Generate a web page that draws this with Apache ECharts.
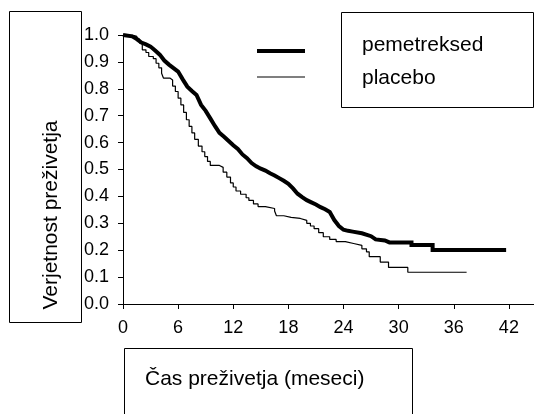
<!DOCTYPE html>
<html>
<head>
<meta charset="utf-8">
<script src="https://cdn.jsdelivr.net/npm/echarts/dist/echarts.min.js"></script>
<style>
  html, body { margin: 0; padding: 0; background: #fff; }
  #chart { width: 534px; height: 414px; }
</style>
</head>
<body>
<div id="chart"></div>
<script>
// Kaplan-Meier survival curves (time in months, survival probability).
// The pemetreksed curve is drawn as a polyline through its corner points.
var pemetrexedMonths = [0, 1.0, 1.5, 2.0, 2.5, 3.0, 3.5, 4.0, 4.5, 5.0, 5.5, 6.0, 6.5, 7.0, 7.5, 8.0, 8.5, 9.0, 9.5, 10.0,
  10.5, 11.0, 11.5, 12.0, 12.5, 13.0, 13.5, 14.0, 14.5, 15.0, 15.5, 16.0, 16.5, 17.0, 17.5, 18.0, 18.5, 19.0, 19.5, 20.0,
  20.5, 21.0, 21.5, 22.0, 22.5, 23.0, 23.5, 24.0, 24.5, 25.0, 26.0, 27.0, 27.5, 28.5, 29.0, 31.4, 31.4, 33.7, 33.7, 41.7];
var pemetrexedSurvival = [1.00, 0.995, 0.985, 0.972, 0.965, 0.957, 0.942, 0.927, 0.905, 0.890, 0.877, 0.864, 0.835, 0.808, 0.792, 0.777, 0.740, 0.718, 0.690, 0.662,
  0.636, 0.622, 0.606, 0.590, 0.576, 0.556, 0.542, 0.524, 0.512, 0.503, 0.496, 0.486, 0.478, 0.468, 0.458, 0.447, 0.430, 0.410, 0.397, 0.386,
  0.378, 0.370, 0.360, 0.352, 0.342, 0.312, 0.290, 0.276, 0.272, 0.269, 0.263, 0.252, 0.240, 0.236, 0.229, 0.229, 0.219, 0.219, 0.201, 0.201];

// Placebo curve is drawn as a step function (value holds until the next event)
var placeboMonths = [0, 1.0, 1.5, 1.8, 2.1, 2.5, 2.8, 3.3, 3.6, 3.9, 4.2, 4.4, 5.1, 5.4, 5.7, 6.0, 6.3, 6.6, 6.9, 7.2,
  7.5, 7.8, 8.2, 8.6, 8.9, 9.2, 9.5, 10.5, 10.9, 11.3, 11.7, 12.0, 12.3, 12.8, 13.4, 13.7, 14.2, 14.7, 15.5, 16.5,
  16.7, 17.5, 18.3, 19.3, 20.0, 20.4, 20.8, 21.3, 21.8, 22.5, 23.2, 24.2, 25.1, 26.0, 26.5, 26.8, 28.0, 28.9, 31.0, 37.4];
var placeboSurvival = [1.00, 0.995, 0.985, 0.970, 0.945, 0.935, 0.920, 0.912, 0.895, 0.878, 0.858, 0.840, 0.833, 0.810, 0.790, 0.765, 0.740, 0.712, 0.685, 0.660,
  0.636, 0.612, 0.587, 0.566, 0.548, 0.530, 0.515, 0.508, 0.490, 0.472, 0.450, 0.435, 0.420, 0.408, 0.395, 0.385, 0.372, 0.362, 0.355, 0.346,
  0.328, 0.322, 0.318, 0.311, 0.300, 0.290, 0.280, 0.265, 0.250, 0.240, 0.232, 0.225, 0.218, 0.205, 0.194, 0.176, 0.156, 0.136, 0.118, 0.118];

var seriesNames = ['pemetreksed', 'placebo'];
var xTitle = 'Čas preživetja (meseci)';
var yTitle = 'Verjetnost preživetja';

function pairs(xs, ys) {
  return xs.map(function (x, i) { return [x, ys[i]]; });
}

var FONT = '"Liberation Sans", Arial, sans-serif';
var chart = echarts.init(document.getElementById('chart'), null, { renderer: 'canvas' });

chart.setOption({
  animation: false,
  backgroundColor: '#ffffff',
  // the time axis runs on past the right edge of the page
  grid: { left: 123, top: 35, bottom: 110, right: -30, containLabel: false, outerBoundsMode: 'none' },
  xAxis: {
    type: 'value',
    min: 0,
    max: 48,
    interval: 6,
    splitLine: { show: false },
    axisLine: { show: true, lineStyle: { color: '#000', width: 1 } },
    axisTick: { show: true, length: 5, lineStyle: { color: '#000', width: 1 } },
    axisLabel: { color: '#000', fontFamily: FONT, fontSize: 18, margin: 15, hideOverlap: false }
  },
  yAxis: {
    type: 'value',
    min: 0,
    max: 1,
    interval: 0.1,
    splitLine: { show: false },
    axisLine: { show: true, lineStyle: { color: '#000', width: 1 } },
    axisTick: { show: true, length: 5, lineStyle: { color: '#000', width: 1 } },
    axisLabel: {
      color: '#000', fontFamily: FONT, fontSize: 18, margin: 14,
      formatter: function (v) { return v.toFixed(1); }
    }
  },
  series: [
    {
      name: seriesNames[0],
      type: 'line',
      showSymbol: false,
      symbol: 'none',
      data: pairs(pemetrexedMonths, pemetrexedSurvival),
      lineStyle: { color: '#000', width: 4, join: 'miter' },
      z: 3
    },
    {
      name: seriesNames[1],
      type: 'line',
      step: 'end',
      showSymbol: false,
      symbol: 'none',
      data: pairs(placeboMonths, placeboSurvival),
      lineStyle: { color: '#000', width: 1.2 },
      z: 2
    }
  ],
  graphic: [
    // y-axis title box
    { type: 'rect', shape: { x: 9.5, y: 11.5, width: 72, height: 311 },
      style: { fill: 'none', stroke: '#000', lineWidth: 1 } },
    { type: 'text', x: 51, y: 215, rotation: Math.PI / 2,
      style: { text: yTitle, font: '21px ' + FONT, fill: '#000', align: 'center', verticalAlign: 'middle' } },
    // x-axis title box
    { type: 'rect', shape: { x: 124.5, y: 348.5, width: 288, height: 80 },
      style: { fill: 'none', stroke: '#000', lineWidth: 1 } },
    { type: 'text', x: 145, y: 379,
      style: { text: xTitle, font: '21px ' + FONT, fill: '#000', align: 'left', verticalAlign: 'middle' } },
    // legend keys
    { type: 'line', shape: { x1: 257, y1: 51, x2: 305, y2: 51 },
      style: { stroke: '#000', lineWidth: 4 } },
    { type: 'line', shape: { x1: 257, y1: 77, x2: 305, y2: 77 },
      style: { stroke: '#000', lineWidth: 1.2 } },
    // legend box with names
    { type: 'rect', shape: { x: 341.5, y: 12.5, width: 192, height: 95 },
      style: { fill: 'none', stroke: '#000', lineWidth: 1 } },
    { type: 'text', x: 362, y: 45,
      style: { text: seriesNames[0], font: '21px ' + FONT, fill: '#000', align: 'left', verticalAlign: 'middle' } },
    { type: 'text', x: 362, y: 78,
      style: { text: seriesNames[1], font: '21px ' + FONT, fill: '#000', align: 'left', verticalAlign: 'middle' } }
  ]
});
</script>
</body>
</html>
